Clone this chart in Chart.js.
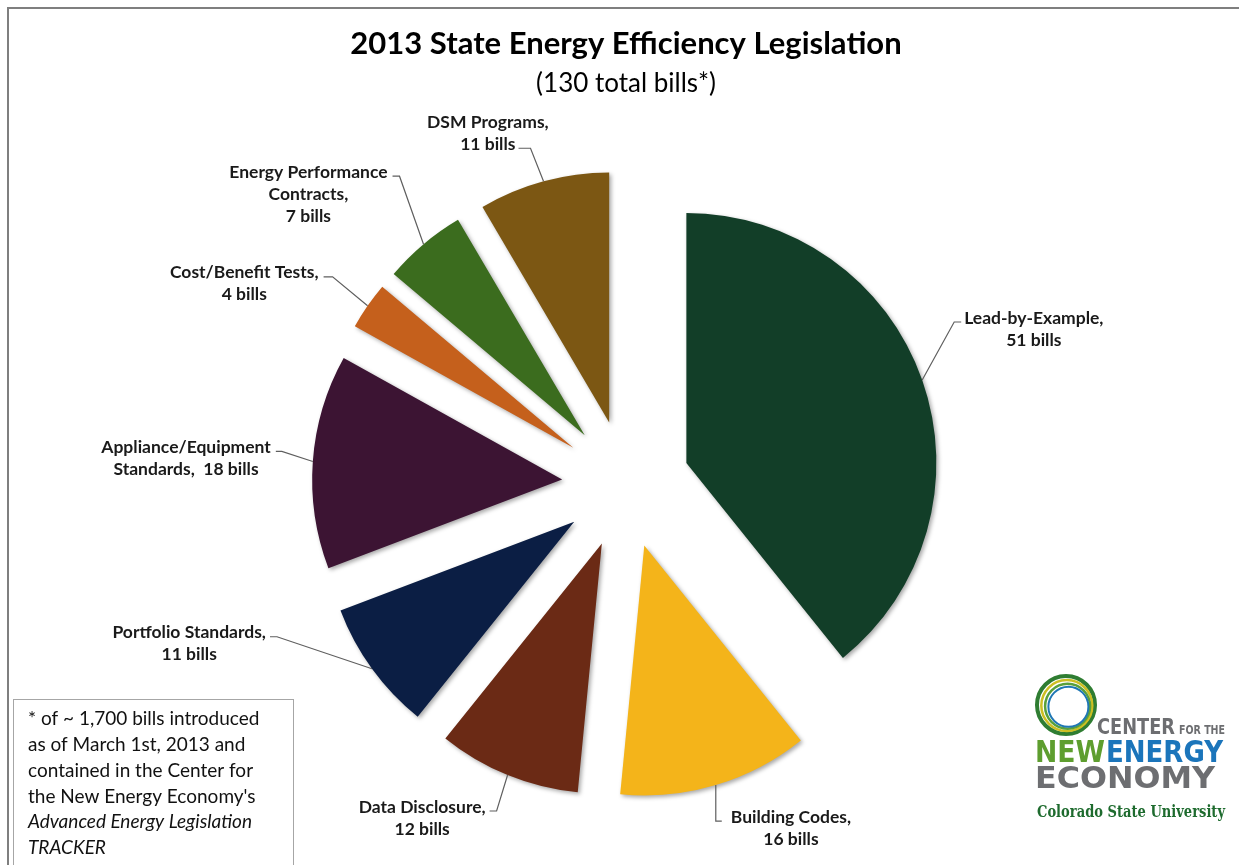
<!DOCTYPE html>
<html>
<head>
<meta charset="utf-8">
<script src="https://cdn.jsdelivr.net/npm/chart.js@4/dist/chart.umd.min.js"></script>
<style>
  html, body { margin: 0; padding: 0; background: #fff; }
  #wrap { position: relative; width: 1239px; height: 865px; }
</style>
</head>
<body>
<div id="wrap"><canvas id="chart" width="1239" height="865"></canvas></div>
<script>
// Bill counts by policy category, clockwise from 12 o'clock
const categories = [
  'Lead-by-Example',
  'Building Codes',
  'Data Disclosure',
  'Portfolio Standards',
  'Appliance/Equipment Standards',
  'Cost/Benefit Tests',
  'Energy Performance Contracts',
  'DSM Programs'
];
const bills = [51, 16, 12, 11, 18, 4, 7, 11];
const sliceColors = ['#123e28', '#f4b41a', '#6b2a15', '#0b1e44', '#3c1433', '#c5601c', '#3b6c1e', '#7c5713'];

// Label wording ({v} becomes the bill count), one string per line
const labelTemplates = [
  ['Lead-by-Example,', '{v} bills'],
  ['Building Codes,', '{v} bills'],
  ['Data Disclosure,', '{v} bills'],
  ['Portfolio Standards,', '{v} bills'],
  ['Appliance/Equipment', 'Standards,  {v} bills'],
  ['Cost/Benefit Tests,', '{v} bills'],
  ['Energy Performance', 'Contracts,', '{v} bills'],
  ['DSM Programs,', '{v} bills']
];

const titleText = '2013 State Energy Efficiency Legislation';
const subtitleText = '(130 total bills*)';
const footnoteLines = [
  { text: '* of ~ 1,700 bills introduced', italic: false },
  { text: 'as of March 1st, 2013 and', italic: false },
  { text: 'contained in the Center for', italic: false },
  { text: "the New Energy Economy's", italic: false },
  { text: 'Advanced Energy Legislation', italic: true },
  { text: 'TRACKER', italic: true }
];

// ---- layout / style settings ----
const EXPLODE = 64;          // how far every slice is pulled out from the centre
const LABEL_FONT = 'bold 17.5px Lato';
const LABEL_LINE_H = 22;
// leader geometry per slice: elbow offset from the slice's outer midpoint,
// stub direction (+1 text on the right, -1 on the left), stub length, gap, anchored line
const leaders = [
  { dx: 32,  dy: -58, dir: 1,  stub: 7,  gap: 3, line: 0 },
  { dx: 0,   dy: 36,  dir: 1,  stub: 6,  gap: 9, line: 0 },
  { dx: -11, dy: 36,  dir: -1, stub: 7,  gap: 4, line: 0 },
  { dx: -95, dy: -32, dir: -1, stub: 7,  gap: 4, line: 0 },
  { dx: -31, dy: -10, dir: -1, stub: 6,  gap: 5, line: 0 },
  { dx: -35, dy: -29, dir: -1, stub: 9,  gap: 5, line: 0 },
  { dx: -24, dy: -68, dir: -1, stub: 7,  gap: 5, line: 0 },
  { dx: -13, dy: -33, dir: -1, stub: 12, gap: 3, line: 1 }
];

// Draw each slice pulled out along its mid-angle, with a soft drop shadow
const explodedSlices = {
  id: 'explodedSlices',
  beforeDatasetDraw(chart, args) {
    const ctx = chart.ctx;
    args.meta.data.forEach(arc => {
      const mid = (arc.startAngle + arc.endAngle) / 2;
      ctx.save();
      ctx.translate(Math.cos(mid) * EXPLODE, Math.sin(mid) * EXPLODE);
      ctx.shadowColor = 'rgba(0,0,0,0.35)';
      ctx.shadowBlur = 4;
      ctx.shadowOffsetX = 2;
      ctx.shadowOffsetY = 2;
      arc.draw(ctx);
      ctx.restore();
    });
    return false;
  }
};

// Category labels with leader lines
const leaderLabels = {
  id: 'leaderLabels',
  afterDatasetsDraw(chart) {
    const ctx = chart.ctx;
    const meta = chart.getDatasetMeta(0);
    ctx.save();
    ctx.font = LABEL_FONT;
    ctx.textBaseline = 'middle';
    ctx.textAlign = 'center';
    meta.data.forEach((arc, i) => {
      const L = leaders[i];
      const mid = (arc.startAngle + arc.endAngle) / 2;
      const r = arc.outerRadius + EXPLODE;
      const px = arc.x + Math.cos(mid) * r;
      const py = arc.y + Math.sin(mid) * r;
      const ex = px + L.dx, ey = py + L.dy;
      const sx = ex + L.dir * L.stub;
      ctx.strokeStyle = '#5f5f5f';
      ctx.lineWidth = 1.2;
      ctx.beginPath();
      ctx.moveTo(px, py);
      ctx.lineTo(ex, ey);
      ctx.lineTo(sx, ey);
      ctx.stroke();

      const lines = labelTemplates[i].map(s => s.replace('{v}', chart.data.datasets[0].data[i]));
      const aw = ctx.measureText(lines[L.line]).width;
      const cx = L.dir > 0 ? sx + L.gap + aw / 2 : sx - L.gap - aw / 2;
      const firstY = ey - 4 - L.line * LABEL_LINE_H;
      ctx.fillStyle = '#1a1a1a';
      lines.forEach((t, k) => ctx.fillText(t, cx, firstY + k * LABEL_LINE_H));
    });
    ctx.restore();
  }
};

function fitText(ctx, text, x, y, width) {
  const w = ctx.measureText(text).width;
  ctx.save();
  ctx.translate(x, y);
  ctx.scale(width / w, 1);
  ctx.fillText(text, 0, 0);
  ctx.restore();
}

// Frame, footnote box and the centre's logo
const decorations = {
  id: 'decorations',
  afterDraw(chart) {
    const ctx = chart.ctx;
    ctx.save();
    // outer frame
    ctx.strokeStyle = '#7f7f7f';
    ctx.lineWidth = 2;
    ctx.beginPath();
    ctx.moveTo(8, 865);
    ctx.lineTo(8, 8);
    ctx.lineTo(1239, 8);
    ctx.stroke();

    // footnote box
    ctx.strokeStyle = '#a6a6a6';
    ctx.lineWidth = 1;
    ctx.strokeRect(13.5, 699.5, 280, 180);
    ctx.fillStyle = '#111';
    ctx.textBaseline = 'middle';
    ctx.textAlign = 'left';
    footnoteLines.forEach((ln, k) => {
      ctx.font = (ln.italic ? 'italic ' : '') + '19px Lato';
      ctx.fillText(ln.text, 28, 719 + k * 25.8, 258);
    });

    // logo rings
    const lx = 1066, ly = 705;
    const rings = [
      { r: 29, c: '#2f7d32', w: 4 },
      { r: 25.5, c: '#cdbf22', w: 2.5 },
      { r: 22.5, c: '#5aa03a', w: 2.5 },
      { r: 20, c: '#1f77b4', w: 2 }
    ];
    rings.forEach((g, k) => {
      ctx.beginPath();
      ctx.strokeStyle = g.c;
      ctx.lineWidth = g.w;
      ctx.arc(lx + k * 0.8, ly + k * 0.6, g.r, 0, Math.PI * 2);
      ctx.stroke();
    });

    // logo words
    ctx.textBaseline = 'alphabetic';
    ctx.textAlign = 'left';
    ctx.fillStyle = '#6d6e71';
    ctx.font = 'bold 22px "DejaVu Sans Condensed"';
    fitText(ctx, 'CENTER', 1097, 734, 78);
    ctx.font = 'bold 12px "DejaVu Sans Condensed"';
    fitText(ctx, 'FOR THE', 1179, 734, 46);
    ctx.font = 'bold 30px "DejaVu Sans Condensed"';
    ctx.fillStyle = '#5e9e2f';
    fitText(ctx, 'NEW', 1035, 762, 70);
    ctx.fillStyle = '#1b75bb';
    fitText(ctx, 'ENERGY', 1106, 762, 117);
    ctx.fillStyle = '#6d6e71';
    fitText(ctx, 'ECONOMY', 1035, 788, 180);
    ctx.fillStyle = '#1e6b2e';
    ctx.font = 'bold 17px "DejaVu Serif"';
    fitText(ctx, 'Colorado State University', 1037, 817, 188);
    ctx.restore();
  }
};

new Chart(document.getElementById('chart'), {
  type: 'pie',
  data: {
    labels: categories,
    datasets: [{
      data: bills,
      backgroundColor: sliceColors,
      borderWidth: 0
    }]
  },
  options: {
    responsive: false,
    animation: false,
    radius: 250,
    layout: { padding: { left: 13, right: 0, top: 0, bottom: 0 } },
    plugins: {
      legend: { display: false },
      tooltip: { enabled: false },
      title: {
        display: true,
        text: titleText,
        color: '#000',
        font: { family: 'Lato', size: 31, weight: 'bold', lineHeight: 1.2 },
        padding: { top: 25, bottom: 0 }
      },
      subtitle: {
        display: true,
        text: subtitleText,
        color: '#000',
        font: { family: 'Lato', size: 26, weight: 'normal', lineHeight: 1.2 },
        padding: { top: 6, bottom: 4 }
      }
    }
  },
  plugins: [explodedSlices, leaderLabels, decorations]
});
</script>
</body>
</html>
